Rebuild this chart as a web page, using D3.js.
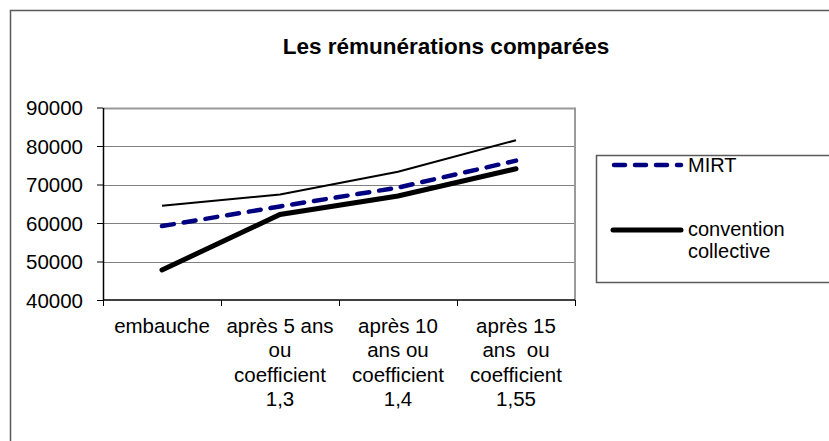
<!DOCTYPE html>
<html>
<head>
<meta charset="utf-8">
<script src="https://cdn.jsdelivr.net/npm/d3@7"></script>
<style>
  body { margin: 0; background: #fff; }
  svg { display: block; font-family: "Liberation Sans", Arial, sans-serif; }
  .xlab { white-space: pre; }
</style>
</head>
<body>
<svg width="829" height="441"></svg>
<script>
// categories (one array of lines per label)
var categories = ["embauche", "après 5 ans", "après 10 ans", "après 15 ans"];
var catLines = [
    ["embauche"],
    ["après 5 ans", "ou", "coefficient", "1,3"],
    ["après 10", "ans ou", "coefficient", "1,4"],
    ["après 15", "ans  ou", "coefficient", "1,55"]
];
var yTicks = [40000, 50000, 60000, 70000, 80000, 90000];

// series
var autre = [64500, 67400, 73300, 81500];   // thin line, not in legend
var mirt = [59200, 64300, 69200, 76200];
var convention = [47800, 62200, 67000, 74100];

var svg = d3.select("svg");

// outer chart frame
svg.append("rect")
    .attr("x", 10.5).attr("y", 10.5)
    .attr("width", 840).attr("height", 450)
    .attr("fill", "none")
    .attr("stroke", "#5a5a5a")
    .attr("stroke-width", 1.5);

svg.append("text")
    .attr("x", 446).attr("y", 54)
    .attr("text-anchor", "middle")
    .attr("font-size", 22.5)
    .attr("font-weight", "bold")
    .text("Les rémunérations comparées");

var pLeft = 103, pRight = 575, pTop = 107.5, pBottom = 300;

var x = d3.scaleBand().domain(categories).range([pLeft, pRight]).padding(0);
var y = d3.scaleLinear().domain([40000, 90000]).range([pBottom, pTop]);

// gridlines
svg.append("g")
    .selectAll("line")
    .data(yTicks.slice(1))
    .enter().append("line")
    .attr("x1", pLeft).attr("x2", pRight)
    .attr("y1", function (d) { return Math.round(y(d)) + 0.5; })
    .attr("y2", function (d) { return Math.round(y(d)) + 0.5; })
    .attr("stroke", function (d) { return d == 90000 ? "#9a9a9a" : "#808080"; })
    .attr("stroke-width", function (d) { return d == 90000 ? 2 : 1; });

// right border of plot area
svg.append("line")
    .attr("x1", pRight).attr("x2", pRight)
    .attr("y1", pTop).attr("y2", pBottom)
    .attr("stroke", "#9a9a9a").attr("stroke-width", 2);

// y axis
var yAxis = svg.append("g")
    .attr("transform", "translate(" + pLeft + ",0)")
    .call(d3.axisLeft(y).tickValues(yTicks).tickSize(6).tickSizeOuter(0).tickFormat(d3.format("d")));
yAxis.select(".domain").attr("stroke", "#000").attr("stroke-width", 1.5);
yAxis.selectAll(".tick line").attr("stroke", "#000");
yAxis.selectAll("text")
    .attr("font-size", 20.5)
    .attr("font-family", "Liberation Sans, Arial, sans-serif")
    .attr("fill", "#000")
    .attr("x", -20)
    .attr("dy", "0.36em");

// x axis, ticks at category boundaries
var bounds = categories.map(function (c) { return x(c); }).concat([pRight]);
svg.append("line")
    .attr("x1", pLeft).attr("x2", pRight)
    .attr("y1", pBottom).attr("y2", pBottom)
    .attr("stroke", "#000").attr("stroke-width", 1.5);
svg.append("g")
    .selectAll("line")
    .data(bounds)
    .enter().append("line")
    .attr("x1", function (d) { return Math.round(d) + 0.5; })
    .attr("x2", function (d) { return Math.round(d) + 0.5; })
    .attr("y1", pBottom).attr("y2", pBottom + 6)
    .attr("stroke", "#000");

var xl = svg.append("g").selectAll("text")
    .data(catLines)
    .enter().append("text")
    .attr("class", "xlab")
    .attr("text-anchor", "middle")
    .attr("font-size", 20.5);
xl.each(function (lines, i) {
    var t = d3.select(this);
    lines.forEach(function (s, j) {
        t.append("tspan")
            .attr("x", x(categories[i]) + x.bandwidth() / 2)
            .attr("y", 333 + j * 24.3)
            .text(s);
    });
});

// lines
var line = d3.line()
    .x(function (d, i) { return x(categories[i]) + x.bandwidth() / 2; })
    .y(function (d) { return y(d); });

svg.append("path")
    .datum(autre)
    .attr("d", line)
    .attr("fill", "none")
    .attr("stroke", "#000")
    .attr("stroke-width", 2);

svg.append("path")
    .datum(convention)
    .attr("d", line)
    .attr("fill", "none")
    .attr("stroke", "#000")
    .attr("stroke-width", 5)
    .attr("stroke-linecap", "round");

svg.append("path")
    .datum(mirt)
    .attr("d", line)
    .attr("fill", "none")
    .attr("stroke", "#000080")
    .attr("stroke-width", 4.5)
    .attr("stroke-dasharray", "12,10")
    .attr("stroke-linecap", "round");

// legend
var lg = svg.append("g");
lg.append("rect")
    .attr("x", 596.5).attr("y", 155.5)
    .attr("width", 260).attr("height", 127)
    .attr("fill", "#fff")
    .attr("stroke", "#5a5a5a")
    .attr("stroke-width", 1.5);

lg.append("line")
    .attr("x1", 614).attr("x2", 681)
    .attr("y1", 165).attr("y2", 165)
    .attr("stroke", "#000080").attr("stroke-width", 4.5)
    .attr("stroke-dasharray", "11,10").attr("stroke-linecap", "round");
lg.append("text")
    .attr("x", 688).attr("y", 172)
    .attr("font-size", 20)
    .text("MIRT");

lg.append("line")
    .attr("x1", 613).attr("x2", 681)
    .attr("y1", 230).attr("y2", 230)
    .attr("stroke", "#000").attr("stroke-width", 5)
    .attr("stroke-linecap", "round");
lg.append("text")
    .attr("x", 688).attr("y", 236)
    .attr("font-size", 20)
    .text("convention");
lg.append("text")
    .attr("x", 688).attr("y", 258)
    .attr("font-size", 20)
    .text("collective");
</script>
</body>
</html>
